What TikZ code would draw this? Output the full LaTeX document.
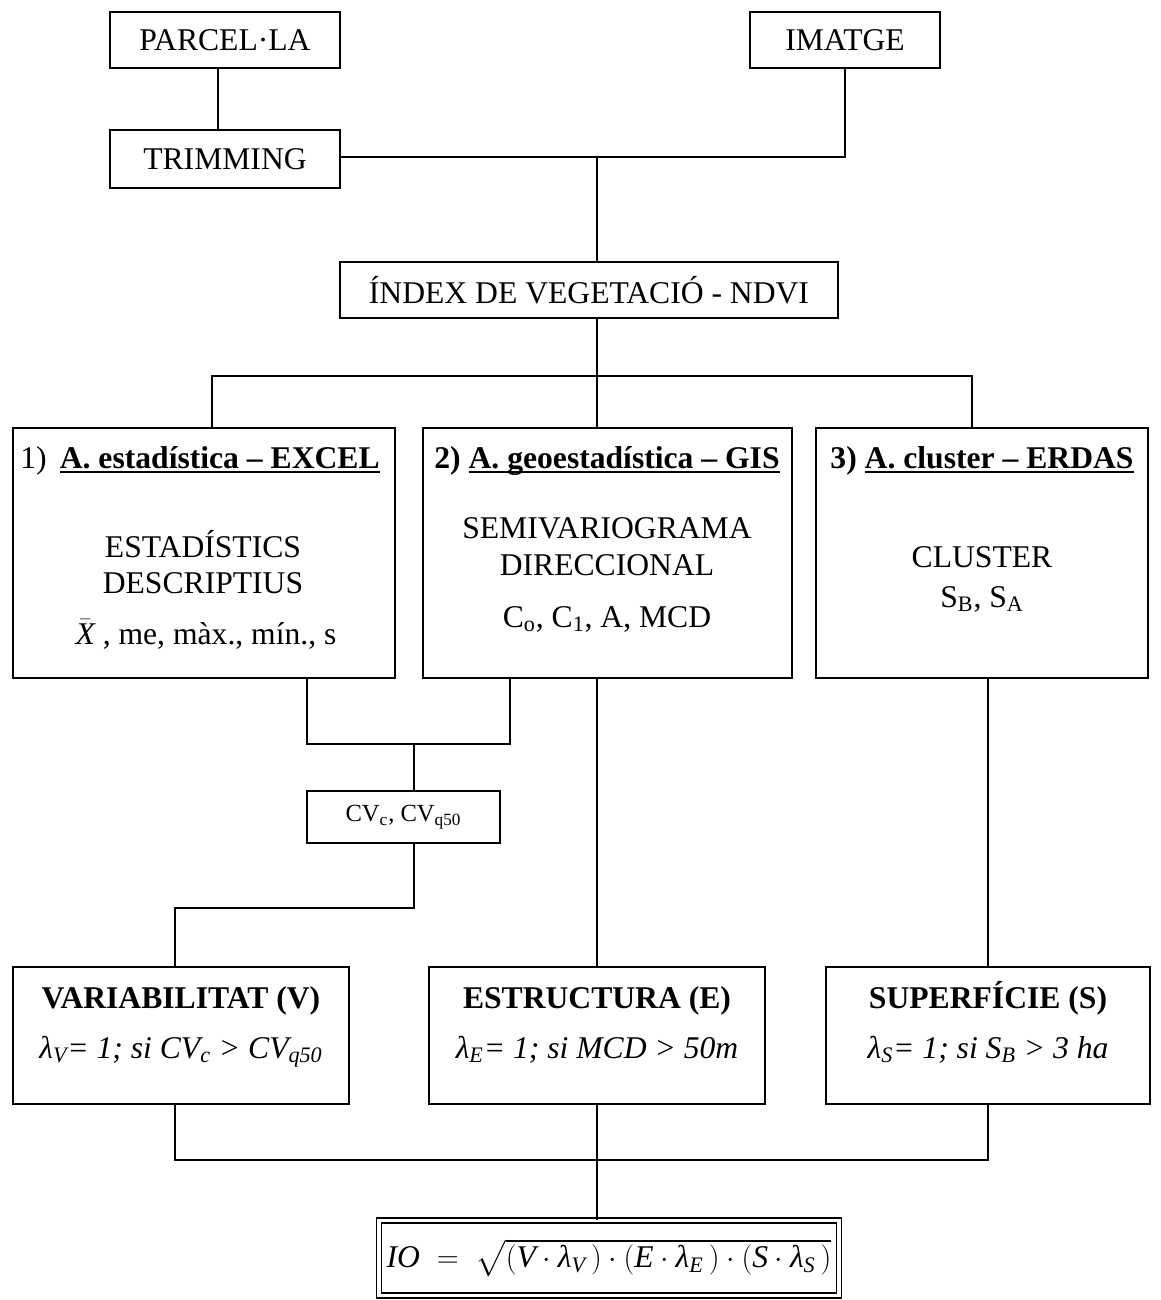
\documentclass[tikz,border=0pt]{standalone}
\usepackage{amsmath}
\usepackage{calc}
\usepackage{fontspec}
\setmainfont{Liberation Serif}
\usetikzlibrary{calc}

\newlength{\undlwd}
\newcommand{\undl}[1]{\settowidth{\undlwd}{#1}\rlap{\rule[-2.6pt]{\undlwd}{1.1pt}}#1}

\begin{document}
\begin{tikzpicture}[
  x=0.02cm, y=-0.02cm,
  every node/.style={font=\fontsize{18}{21}\selectfont},
  box/.style={draw, line width=1.1pt, inner sep=0pt, minimum height=1.12cm},
  bigbox/.style={box, minimum height=5cm},
  resbox/.style={box, minimum height=2.74cm},
  txt/.style={anchor=base, inner sep=0pt},
  link/.style={line width=1.1pt}
]
\useasboundingbox (0,0) rectangle (1160,1300);

% --- Inputs
\node[box, minimum width=4.6cm] (parcela) at (225,40) {PARCEL·LA};
\node[box, minimum width=4.6cm, minimum height=1.16cm] (trimming) at (225,159) {TRIMMING};
\node[box, minimum width=3.8cm] (imatge) at (845,40) {IMATGE};
\node[box, minimum width=9.96cm] (ndvi) at (589,290) {ÍNDEX DE VEGETACIÓ - NDVI};

% --- Analysis boxes
\node[bigbox, minimum width=7.64cm] (estad) at (204,553) {};
\node[bigbox, minimum width=7.38cm] (geo) at (607.5,553) {};
\node[bigbox, minimum width=6.64cm] (clus) at (982,553) {};

\node[txt, anchor=base west] (estadH) at (20,468) {1)~\,\textbf{\undl{A. estadística -- EXCEL}}};
\node[txt] (estadA) at (203,557) {ESTADÍSTICS};
\node[txt] (estadB) at (203,593) {DESCRIPTIUS};
\node[txt] (estadC) at (206,644) {$\bar{\textit{X}}$~, me, màx., mín., s};

\node[txt] (geoH) at (607,468) {\textbf{2) \undl{A. geoestadística -- GIS}}};
\node[txt] (geoA) at (607,538) {SEMIVARIOGRAMA};
\node[txt] (geoB) at (607,575) {DIRECCIONAL};
\node[txt] (geoC) at (607,627) {C\textsubscript{o}, C\textsubscript{1}, A, MCD};

\node[txt] (clusH) at (982,468) {\textbf{3) \undl{A. cluster -- ERDAS}}};
\node[txt] (clusA) at (982,567) {CLUSTER};
\node[txt] (clusB) at (982,607) {S\textsubscript{B}, S\textsubscript{A}};

% --- Coefficient of variation
\node[box, minimum width=3.86cm, minimum height=1.04cm, font=\fontsize{14}{17}\selectfont] (cv) at (403.5,817) {CV\textsubscript{c}, CV\textsubscript{q50}};

% --- Results
\node[resbox, minimum width=6.72cm] (var) at (181,1035.5) {};
\node[resbox, minimum width=6.72cm] (est) at (597,1035.5) {};
\node[resbox, minimum width=6.48cm] (sup) at (988,1035.5) {};

\node[txt] (varH) at (181,1008) {\textbf{VARIABILITAT (V)}};
\node[txt] (varL) at (181,1058) {\textit{λ\textsubscript{V}= 1; si CV\textsubscript{c} > CV\textsubscript{q50}}};
\node[txt] (estH) at (597,1008) {\textbf{ESTRUCTURA (E)}};
\node[txt] (estL) at (597,1058) {\textit{λ\textsubscript{E}= 1; si MCD > 50m}};
\node[txt] (supH) at (988,1008) {\textbf{SUPERFÍCIE (S)}};
\node[txt] (supL) at (988,1058) {\textit{λ\textsubscript{S}= 1; si S\textsubscript{B} > 3 ha}};

% --- Index
\node[box, double, line width=0.9pt, double distance=2pt, minimum width=9.2cm, minimum height=1.5cm] (io) at (609,1258)
  {$\textit{IO} \;=\; \sqrt{(\textit{V}\cdot\textit{λ}_{\textit{V}}\,)\cdot(\textit{E}\cdot\textit{λ}_{\textit{E}}\,)\cdot(\textit{S}\cdot\textit{λ}_{\textit{S}}\,)}$};

% --- Connectors
\coordinate (split1) at (597,157);
\coordinate (split2) at (597,376);
\coordinate (merge) at (414,744);
\coordinate (jv) at (414,908);
\coordinate (join) at (597,1160);

\draw[link] ($(parcela.south)+(-7,0)$) -- ($(trimming.north)+(-7,0)$);
\draw[link] (trimming.east |- split1) -| (imatge.south);
\draw[link] (split1) -- (split1 |- ndvi.north);
\draw[link] (ndvi.south -| split2) -- (split2);
\draw[link] ($(estad.north)+(8,0)$) |- (split2) -| ($(clus.north)+(-10,0)$);
\draw[link] (split2) -- (split2 |- geo.north);
\draw[link] ($(estad.south)+(103,0)$) |- (merge) -| ($(geo.south)+(-97.5,0)$);
\draw[link] (merge) -- (merge |- cv.north);
\draw[link] (cv.south -| jv) -- (jv) -| ($(var.north)+(-6,0)$);
\draw[link] (geo.south -| est.north) -- (est.north);
\draw[link] (clus.south -| sup.north) -- (sup.north);
\draw[link] ($(var.south)+(-6,0)$) |- (join) -| (sup.south);
\draw[link] (est.south) -- (join);
\draw[link] (join) -- (join |- io.north);

\end{tikzpicture}
\end{document}
